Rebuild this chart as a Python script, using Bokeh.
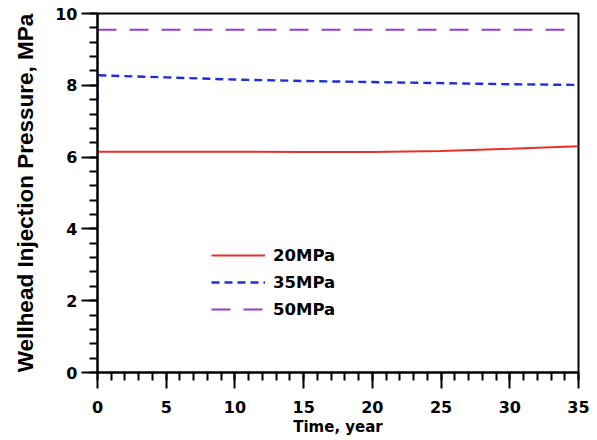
from bokeh.plotting import figure
from bokeh.embed import file_html
from bokeh.resources import INLINE
from bokeh.models import Range1d, FixedTicker, Legend, LegendItem

time_years = [0, 5, 10, 15, 20, 25, 30, 35]
p20 = [6.15, 6.15, 6.15, 6.14, 6.14, 6.17, 6.23, 6.30]
time_35 = [0, 0, 5, 10, 15, 20, 25, 30, 35]
p35 = [7.58, 8.28, 8.22, 8.16, 8.12, 8.09, 8.06, 8.03, 8.01]
time_50 = [0, 35]
p50 = [9.55, 9.55]
labels = ["20MPa", "35MPa", "50MPa"]

FONT = "DejaVu Sans"
YFONT = "Liberation Sans"

p = figure(width=597, height=440, output_backend="svg", toolbar_location=None,
           x_range=Range1d(0, 35), y_range=Range1d(0, 10),
           min_border_left=97, min_border_right=19, min_border_top=13, min_border_bottom=68)
p.grid.visible = False
p.outline_line_color = "black"
p.outline_line_width = 2
p.background_fill_color = "white"
p.border_fill_color = "white"

r1 = p.line(time_years, p20, line_color="#e8302a", line_width=2)
r2 = p.line(time_35, p35, line_color="#1f2fd6", line_width=2.4, line_dash="8 5")
r3 = p.line(time_50, p50, line_color="#a03cc8", line_width=2, line_dash="19 13")

for ax in (p.xaxis[0], p.yaxis[0]):
    ax.axis_line_width = 2
    ax.major_tick_line_width = 2
    ax.minor_tick_line_width = 2
    ax.major_tick_in = 0
    ax.minor_tick_in = 0
    ax.major_tick_out = 16
    ax.minor_tick_out = 8
    ax.major_label_text_font = FONT
    ax.major_label_text_font_style = "bold"
    ax.major_label_text_font_size = "16px"
    ax.major_label_text_color = "black"
    ax.axis_label_text_font_style = "bold"
    ax.axis_label_text_color = "black"

p.xaxis.ticker = FixedTicker(ticks=[0, 5, 10, 15, 20, 25, 30, 35],
                             minor_ticks=list(range(0, 36)))
p.yaxis.ticker = FixedTicker(ticks=[0, 2, 4, 6, 8, 10],
                             minor_ticks=[i * 0.4 for i in range(26)])
p.xaxis.axis_label = "Time, year"
p.xaxis.axis_label_text_font = FONT
p.xaxis.axis_label_text_font_size = "15px"
p.xaxis.axis_label_standoff = 2
p.xaxis.major_label_standoff = 12
p.yaxis.axis_label = "Wellhead Injection Pressure, MPa"
p.yaxis.axis_label_text_font = YFONT
p.yaxis.axis_label_text_font_size = "22.5px"
p.yaxis.axis_label_standoff = 14
p.yaxis.major_label_standoff = 4

legend = Legend(items=[LegendItem(label=labels[0], renderers=[r1]),
                       LegendItem(label=labels[1], renderers=[r2]),
                       LegendItem(label=labels[2], renderers=[r3])],
                location=(114, 53), border_line_color=None, background_fill_alpha=0,
                padding=0, margin=0, spacing=7, glyph_width=54, glyph_height=20,
                label_height=20, label_standoff=8,
                label_text_font=FONT, label_text_font_style="bold",
                label_text_font_size="16.5px", label_text_color="black")
p.add_layout(legend)

open("out.html", "w").write(file_html(p, INLINE))
